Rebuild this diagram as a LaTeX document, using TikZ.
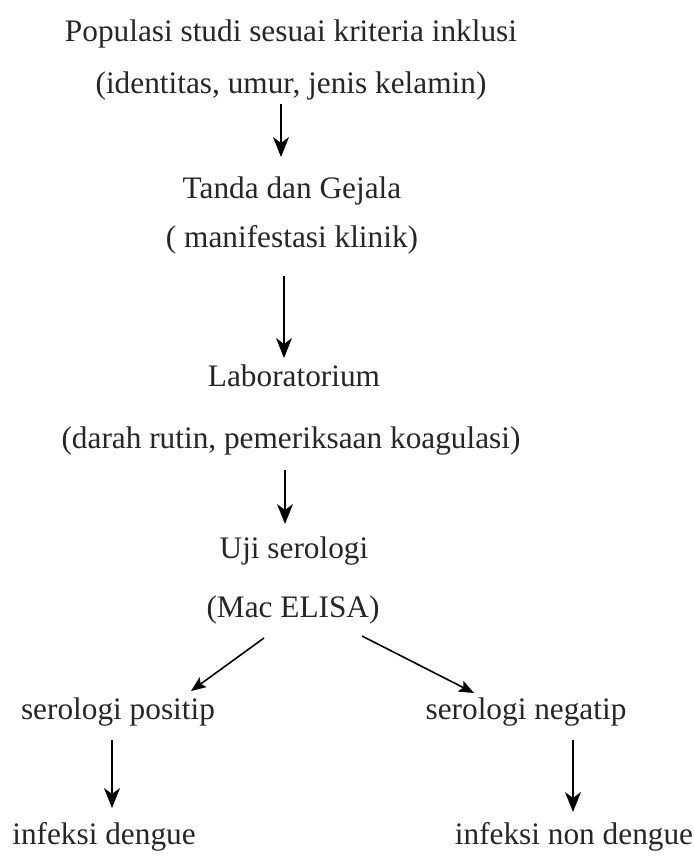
\documentclass[tikz,border=0pt]{standalone}
\usepackage{fontspec}
\setmainfont{Liberation Serif}
\usetikzlibrary{arrows.meta}
\begin{document}
\begin{tikzpicture}[x=1pt,y=-1pt,
  lbl/.style={inner sep=0pt, font=\fontsize{31.3}{32}\selectfont, text=black!85},
  arr/.style={line width=1.8pt, -{Stealth[length=20pt,width=16pt,inset=6pt]}},
  darr/.style={line width=1.6pt, -{Stealth[length=15pt,width=12pt,inset=3pt]}}]
\useasboundingbox (0,0) rectangle (693,856);
\node[lbl] (n1) at (291,34) {Populasi studi sesuai kriteria inklusi};
\node[lbl] (n2) at (291,86) {(identitas, umur, jenis kelamin)};
\node[lbl] (n3) at (292,191) {Tanda dan Gejala};
\node[lbl] (n4) at (292,240) {( manifestasi klinik)};
\node[lbl] (n5) at (294,376) {Laboratorium};
\node[lbl] (n6) at (291,441) {(darah rutin, pemeriksaan koagulasi)};
\node[lbl] (n7) at (294,551) {Uji serologi};
\node[lbl] (n8) at (293,610) {(Mac ELISA)};
\node[lbl] (n9) at (118,712) {serologi positip};
\node[lbl] (n10) at (526,712) {serologi negatip};
\node[lbl] (n11) at (104,837) {infeksi dengue};
\node[lbl] (n12) at (574,837) {infeksi non dengue};
\coordinate (a1s) at (281,104); \coordinate (a1e) at (281,157);
\coordinate (a2s) at (284,276); \coordinate (a2e) at (284,358);
\coordinate (a3s) at (285,470); \coordinate (a3e) at (285,524);
\coordinate (d1s) at (264,638); \coordinate (d1e) at (191,691);
\coordinate (d2s) at (362,636); \coordinate (d2e) at (474,693);
\coordinate (a4s) at (112,740); \coordinate (a4e) at (112,808);
\coordinate (a5s) at (573,740); \coordinate (a5e) at (573,812);
\draw[arr] (a1s) -- (a1e);
\draw[arr] (a2s) -- (a2e);
\draw[arr] (a3s) -- (a3e);
\draw[darr] (d1s) -- (d1e);
\draw[darr] (d2s) -- (d2e);
\draw[arr] (a4s) -- (a4e);
\draw[arr] (a5s) -- (a5e);
\end{tikzpicture}
\end{document}
